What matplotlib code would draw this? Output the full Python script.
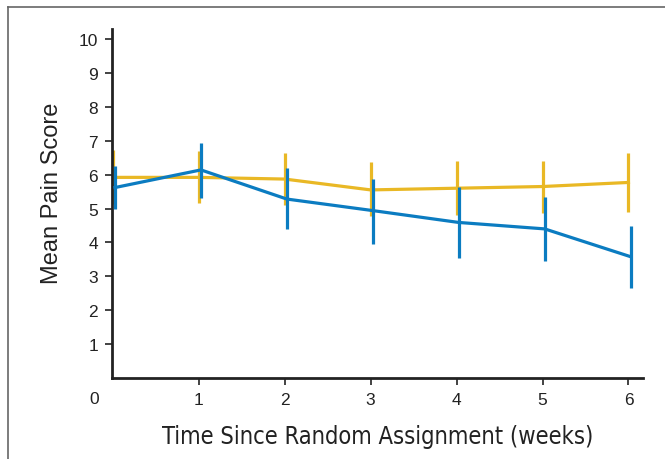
import matplotlib
matplotlib.use("Agg")
import matplotlib.pyplot as plt
from matplotlib.lines import Line2D

plt.rcParams['font.family'] = ['Liberation Sans', 'DejaVu Sans']

# data
weeks = [0, 1, 2, 3, 4, 5, 6]

yellow_mean = [5.92, 5.92, 5.87, 5.55, 5.60, 5.65, 5.77]
yellow_low = [5.13, 5.16, 5.10, 4.77, 4.81, 4.87, 4.89]
yellow_high = [6.73, 6.71, 6.64, 6.36, 6.41, 6.41, 6.64]

blue_mean = [5.62, 6.14, 5.28, 4.94, 4.59, 4.40, 3.58]
blue_low = [5.00, 5.31, 4.40, 3.95, 3.53, 3.46, 2.65]
blue_high = [6.26, 6.93, 6.19, 5.87, 5.65, 5.33, 4.49]

y_ticks = [1, 2, 3, 4, 5, 6, 7, 8, 9, 10]
x_ticks = [1, 2, 3, 4, 5, 6]

yellow = "#e9b825"
blue = "#0b7cc1"

fig = plt.figure(figsize=(6.65, 4.6), dpi=100)
ax = fig.add_axes([0.1684, 0.176, 0.7986, 0.759])

# yellow group
ax.plot(weeks, yellow_mean, color=yellow, lw=2.3, zorder=2)
ax.vlines(weeks, yellow_low, yellow_high, color=yellow, lw=2.3, zorder=2)

# blue group (drawn slightly to the right)
blue_x = [w + 0.025 for w in weeks]
ax.plot(blue_x, blue_mean, color=blue, lw=2.3, zorder=3)
ax.vlines(blue_x, blue_low, blue_high, color=blue, lw=2.3, zorder=3)

ax.set_xlim(-0.01, 6.17)
ax.set_ylim(0, 10.3)
ax.set_xticks(x_ticks)
ax.set_yticks(y_ticks)
ax.tick_params(direction="out", length=5, width=1.2, colors="#222222",
               labelsize=12.5, pad=5)

for s in ["top", "right"]:
    ax.spines[s].set_visible(False)
for s in ["left", "bottom"]:
    ax.spines[s].set_linewidth(2)
    ax.spines[s].set_color("#222222")

ax.text(-0.22, -0.6, "0", fontsize=12.5, color="#222222", ha="center", va="center")

ax.set_ylabel("Mean Pain Score", fontsize=17, color="#222222")
ax.yaxis.set_label_coords(-0.093, 0.533)
ax.set_xlabel("Time Since Random Assignment (weeks)", fontsize=17,
              family="DejaVu Sans", fontstretch="condensed", color="#222222",
              labelpad=12)

# grey frame on the top and left of the figure
fig.add_artist(Line2D([8 / 665, 8 / 665], [0, 1 - 8 / 460],
                      transform=fig.transFigure, color="#666666", lw=1.2))
fig.add_artist(Line2D([8 / 665, 1], [1 - 8 / 460, 1 - 8 / 460],
                      transform=fig.transFigure, color="#666666", lw=1.2))

fig.savefig("out.png", dpi=100)
